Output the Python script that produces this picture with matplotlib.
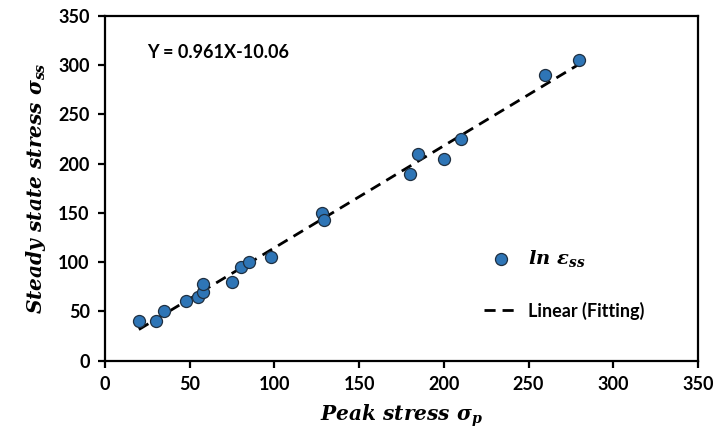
import numpy as np
import matplotlib
matplotlib.use('Agg')
import matplotlib.pyplot as plt

# peak stress vs steady state stress
peak = [20, 30, 35, 48, 55, 58, 58, 75, 80, 85, 98, 128, 129, 180, 185, 200, 210, 260, 280]
steady = [40, 40, 50, 60, 65, 70, 78, 80, 95, 100, 105, 150, 143, 190, 210, 205, 225, 290, 305]
ticks = [0, 50, 100, 150, 200, 250, 300, 350]

plt.rcParams['mathtext.fontset'] = 'custom'
plt.rcParams['mathtext.it'] = 'DejaVu Serif:italic:bold'
plt.rcParams['mathtext.rm'] = 'DejaVu Serif:bold'

fig = plt.figure(figsize=(7.18, 4.33), dpi=100)
ax = fig.add_axes([0.1462, 0.1674, 0.8259, 0.7956])

# linear fit like the excel trendline
k, b = np.polyfit(peak, steady, 1)
xf = np.array([min(peak), max(peak)])
ax.plot(xf, k * xf + b, color='black', lw=2, ls=(0, (4, 2.5)), label='Linear (Fitting)', zorder=2)

ax.scatter(peak, steady, s=75, color='#2E75B6', edgecolors='#1f2f40', linewidths=0.9,
           label=r'$ln\ \varepsilon_{ss}$', zorder=3)

ax.set_xlim(0, 350)
ax.set_ylim(0, 350)
ax.set_xticks(ticks)
ax.set_yticks(ticks)
for s in ax.spines.values():
    s.set_linewidth(1.6)
ax.tick_params(direction='out', length=5, width=1.6, labelsize=13, pad=6)
for lab in ax.get_xticklabels() + ax.get_yticklabels():
    lab.set_fontfamily('Lato')
    lab.set_fontweight('bold')

ax.set_xlabel(r'$Peak\ stress\ \sigma_{p}$', fontsize=14.5, labelpad=7)
ax.set_ylabel(r'$Steady\ state\ stress\ \sigma_{ss}$', fontsize=14.5, labelpad=7)

ax.text(25, 313, 'Y = 0.961X-10.06', fontsize=13, fontfamily='Lato', fontweight='bold',
        va='center', ha='left')

leg = ax.legend(handles=ax.get_legend_handles_labels()[0][::-1], frameon=False,
                loc='center left', bbox_to_anchor=(0.64, 0.222), borderaxespad=0,
                borderpad=0, labelspacing=1.8, handlelength=1.8, handletextpad=0.6,
                prop={'family': 'Lato', 'weight': 'bold', 'size': 13})
leg.get_texts()[0].set_fontsize(14)

fig.savefig('out.png', dpi=100)
